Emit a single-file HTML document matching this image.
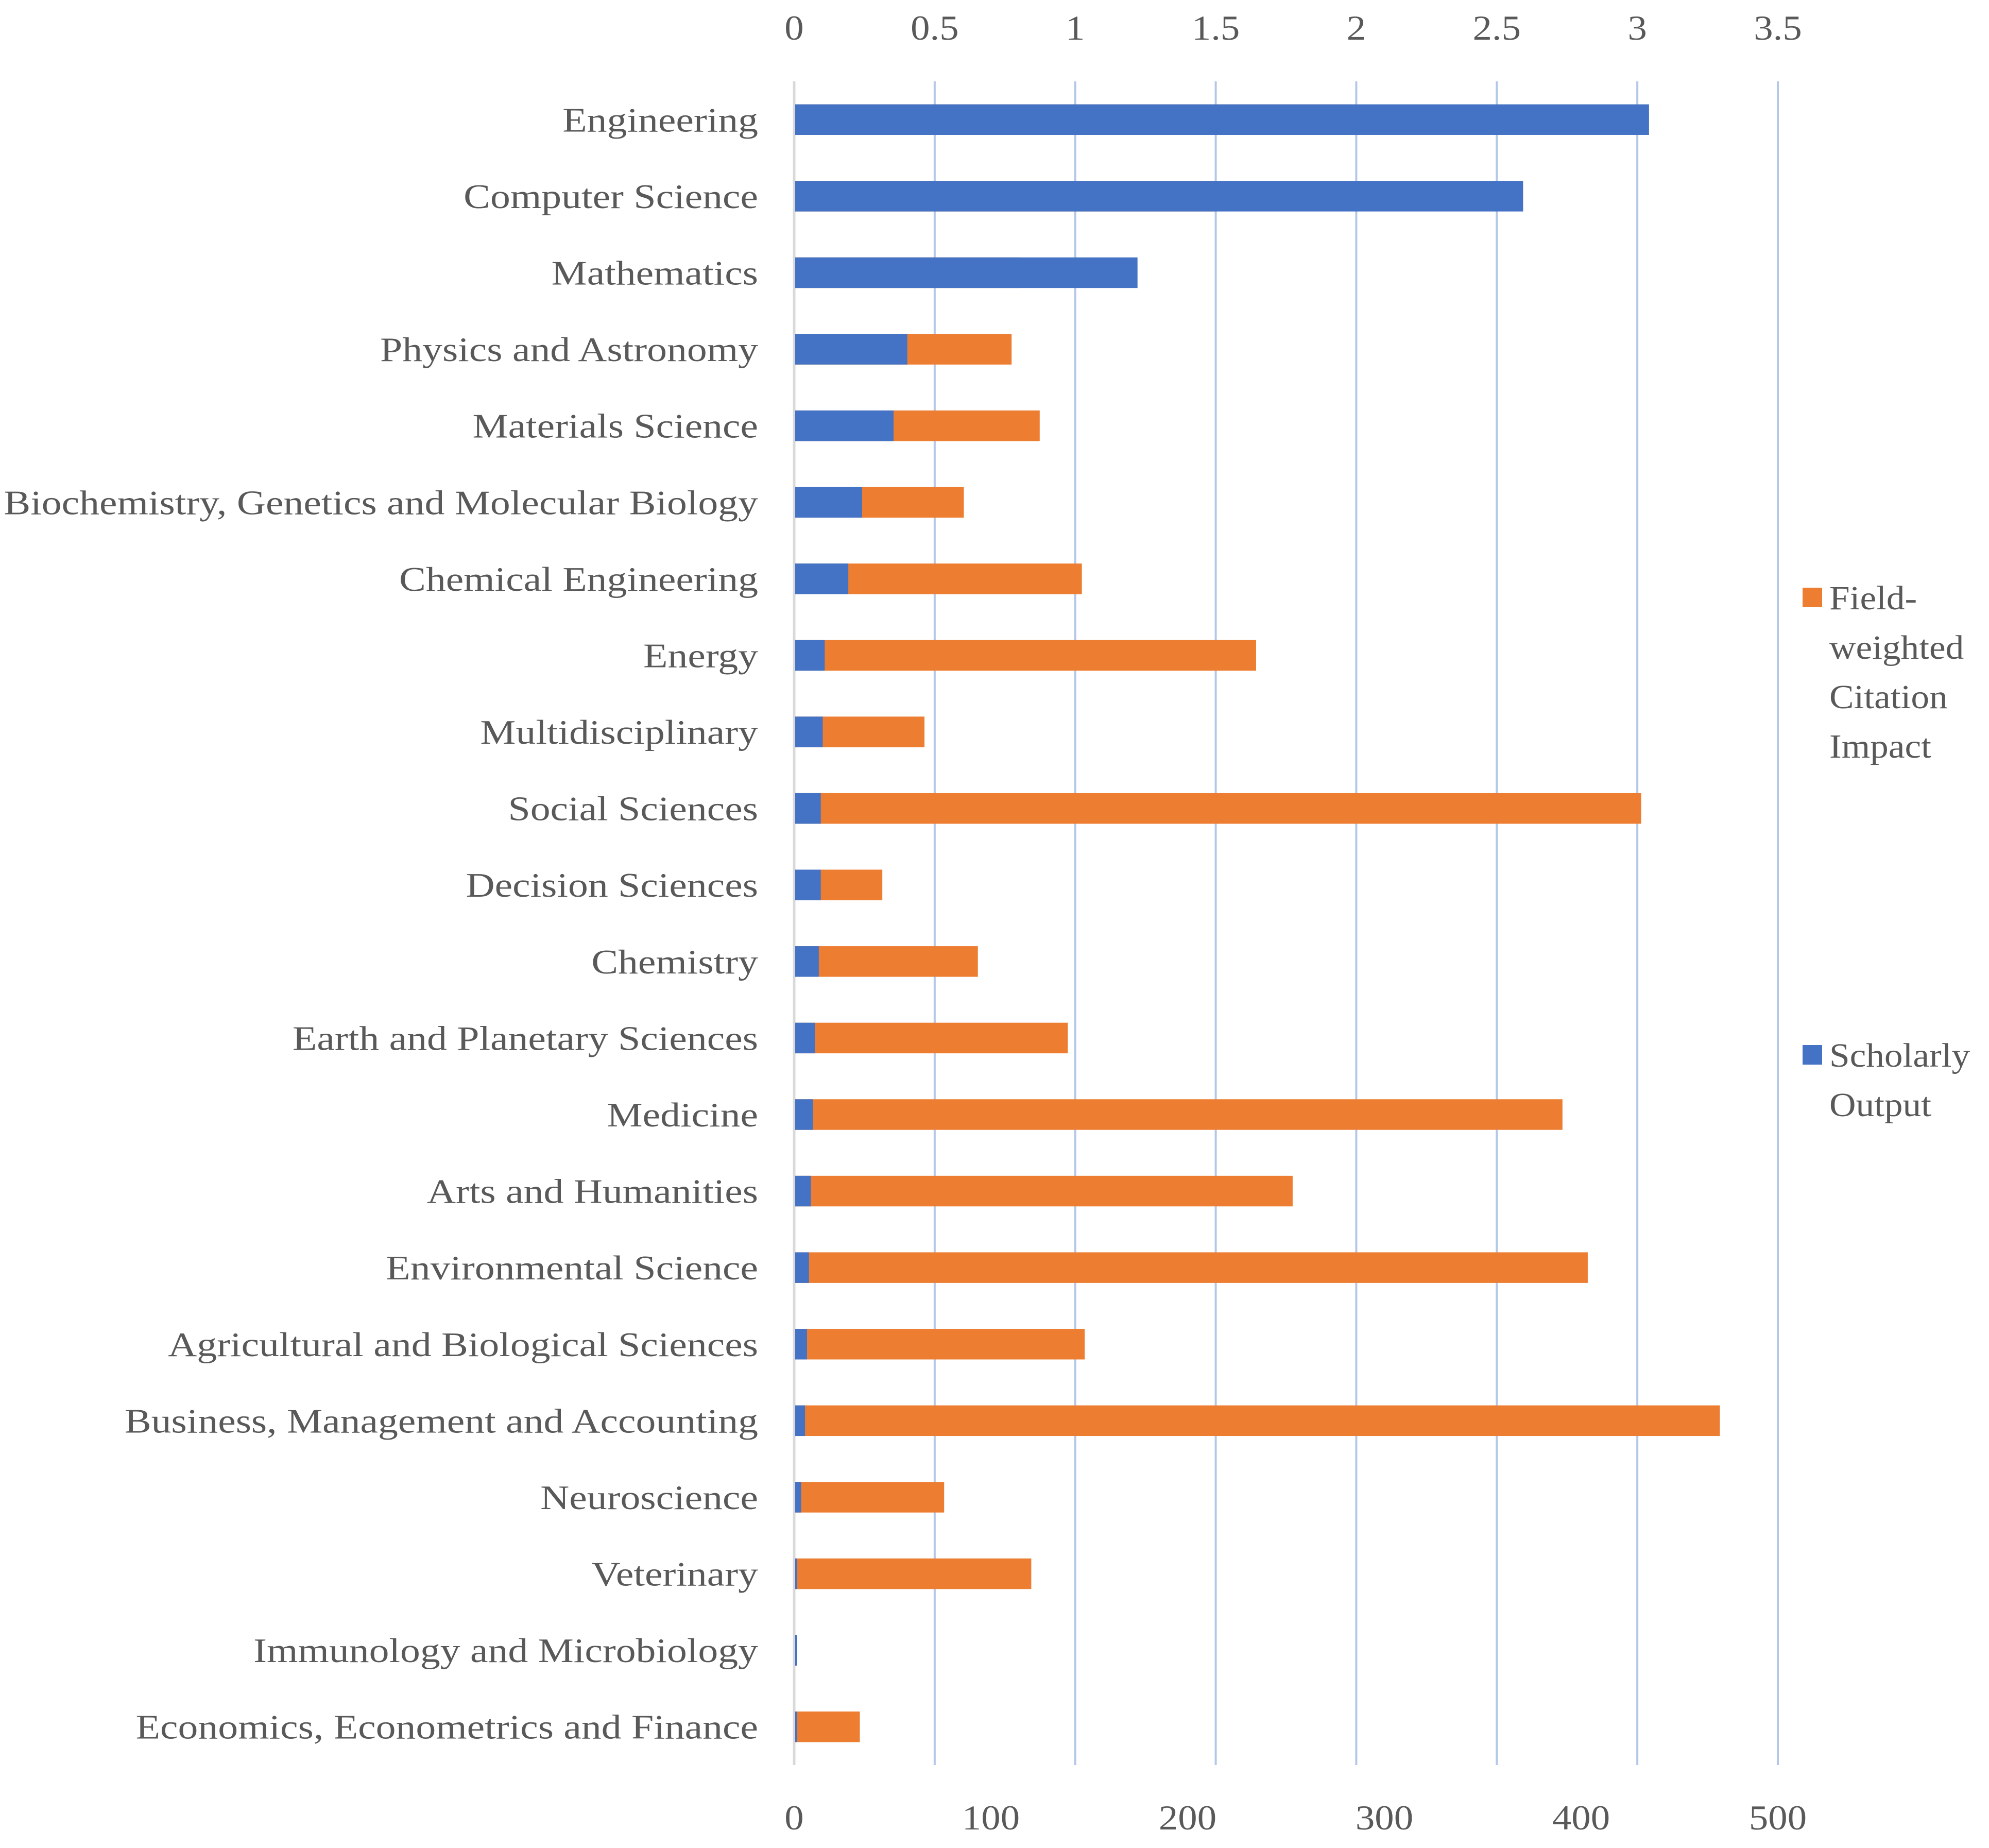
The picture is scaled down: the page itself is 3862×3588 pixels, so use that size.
<!DOCTYPE html>
<html><head><meta charset="utf-8"><style>
html,body{margin:0;padding:0;background:#fff;}
svg text{font-family:"Liberation Serif",serif;fill:#595959;}
</style></head><body>
<svg id="chart" width="3862" height="3583" xmlns="http://www.w3.org/2000/svg"></svg>
<script>
const categories=["Engineering","Computer Science","Mathematics","Physics and Astronomy","Materials Science","Biochemistry, Genetics and Molecular Biology","Chemical Engineering","Energy","Multidisciplinary","Social Sciences","Decision Sciences","Chemistry","Earth and Planetary Sciences","Medicine","Arts and Humanities","Environmental Science","Agricultural and Biological Sciences","Business, Management and Accounting","Neuroscience","Veterinary","Immunology and Microbiology","Economics, Econometrics and Finance"];
const scholarlyOutput=[434,370,174,57,50,34,27,15,14,13,13,12,10,9,8,7,6,5,3,1,1,1];
const fwci=[2.0,1.5,0.8,0.77,0.87,0.60,1.02,1.64,0.46,3.01,0.31,0.65,0.97,2.73,1.77,2.82,1.03,3.29,0.53,0.84,0.005,0.23];
const topTicks=["0","0.5","1","1.5","2","2.5","3","3.5"];
const topTickValues=[0,0.5,1,1.5,2,2.5,3,3.5];
const bottomTicks=["0","100","200","300","400","500"];
const bottomTickValues=[0,100,200,300,400,500];

const NS="http://www.w3.org/2000/svg";
const svg=document.getElementById('chart');
const X0=1542, X1=3452, Y0=158, Y1=3427;
const xTop=v=>X0+(X1-X0)*v/3.5;
const xBot=v=>X0+(X1-X0)*v/500;
const band=(Y1-Y0)/categories.length;
const yC=i=>Y0+band*(i+0.5);
const barH=band*0.4;
function mk(tag,attrs){const e=document.createElementNS(NS,tag);for(const k in attrs)e.setAttribute(k,attrs[k]);svg.appendChild(e);return e;}

topTickValues.forEach((v,i)=>{
  if(i>0){const g=mk('line',{x1:xTop(v),x2:xTop(v),y1:Y0,y2:Y1,stroke:'#b4c7e7','stroke-width':4});
  
  }
  const t=mk('text',{transform:`translate(${xTop(v)},77) scale(1.1,1)`,'font-size':68,'text-anchor':'middle'});
  t.textContent=topTicks[i];
  
  
});
bottomTickValues.forEach((v,i)=>{
  const t=mk('text',{transform:`translate(${xBot(v)},3552) scale(1.1,1)`,'font-size':68,'text-anchor':'middle'});
  t.textContent=bottomTicks[i];
  
  
});
const ax=mk('line',{x1:X0,x2:X0,y1:Y0,y2:Y1,stroke:'#d9d9d9','stroke-width':5});



categories.forEach((c,i)=>{
  const o=mk('rect',{x:X0+2,y:yC(i)-barH/2,width:Math.max(0,xTop(fwci[i])-X0),height:barH,fill:'#ed7d31'});
  
  
  const b=mk('rect',{x:X0+2,y:yC(i)-barH/2,width:Math.max(0,xBot(scholarlyOutput[i])-X0),height:barH,fill:'#4472c4'});
  
  
  const t=mk('text',{transform:`translate(1472,${yC(i)+23}) scale(1.16,1)`,'font-size':67,'text-anchor':'end'});
  t.textContent=c;
  
  
});

const l1=mk('rect',{x:3500,y:1141,width:38,height:38,fill:'#ed7d31'});


["Field-","weighted","Citation","Impact"].forEach((s,i)=>{
  const t=mk('text',{transform:`translate(3552,${1183+i*96}) scale(1.08,1)`,'font-size':66});
  t.textContent=s;
  
  
});
const l2=mk('rect',{x:3500,y:2029,width:38,height:38,fill:'#4472c4'});


["Scholarly","Output"].forEach((s,i)=>{
  const t=mk('text',{transform:`translate(3552,${2071+i*96}) scale(1.08,1)`,'font-size':66});
  t.textContent=s;
  
  
});
</script>
</body></html>
